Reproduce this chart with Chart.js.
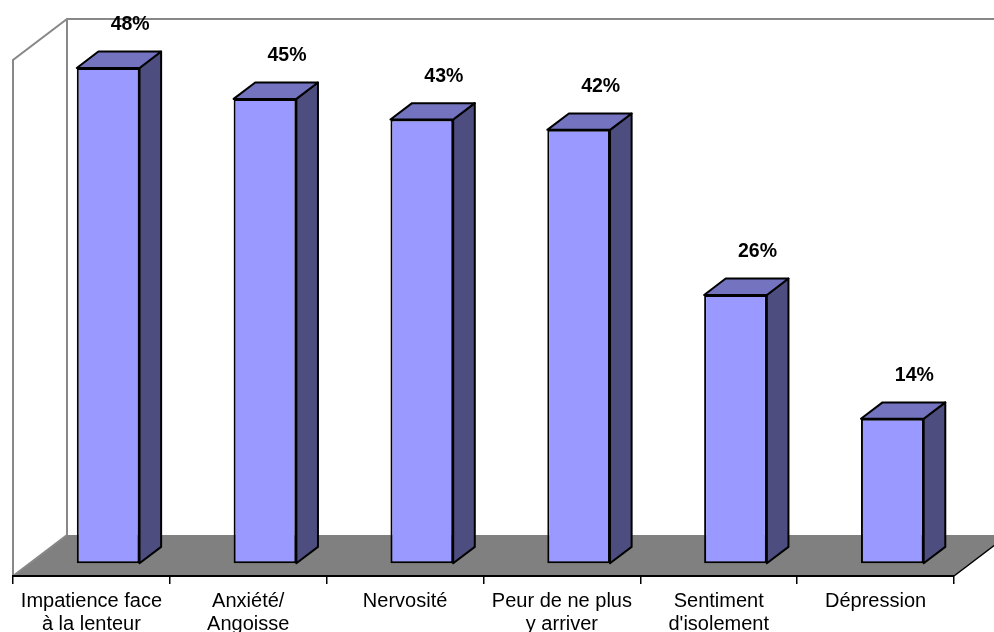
<!DOCTYPE html>
<html>
<head>
<meta charset="utf-8">
<script src="https://cdn.jsdelivr.net/npm/chart.js@4/dist/chart.umd.min.js"></script>
<style>
  html, body { margin: 0; padding: 0; background: #ffffff; }
  #c { display: block; }
</style>
</head>
<body>
<canvas id="c" width="994" height="632"></canvas>
<script>
// Categories (wrapped onto two lines where they are long) and their shares in %
const categories = [
  ["Impatience face", "à la lenteur"],
  ["Anxiété/", "Angoisse"],
  "Nervosité",
  ["Peur de ne plus", "y arriver"],
  ["Sentiment", "d'isolement"],
  "Dépression"
];
const values = [48, 45, 43, 42, 26, 14];
const valueMin = 0;
const valueMax = 50;

// Oblique projection of the depth axis: the whole floor depth, and the slice of it the bars occupy
const DEPTH = { x: 54, y: -41 };
const BAR_FRONT = 0.31;
const BAR_BACK = 0.71;

const FONT = "'Liberation Sans', Arial, sans-serif";
const COLORS = {
  front: '#9999FF',
  top: '#7373BF',
  side: '#4D4D80',
  floor: '#808080',
  wall: '#888888'
};

// Walls and floor of the 3D box, drawn behind everything else
const boxPlugin = {
  id: 'box3d',
  beforeDraw(chart) {
    const { ctx, chartArea: a, width } = chart;
    ctx.save();
    // floor
    ctx.beginPath();
    ctx.moveTo(a.left, a.bottom);
    ctx.lineTo(a.right, a.bottom);
    ctx.lineTo(a.right + DEPTH.x, a.bottom + DEPTH.y);
    ctx.lineTo(a.left + DEPTH.x, a.bottom + DEPTH.y);
    ctx.closePath();
    ctx.fillStyle = COLORS.floor;
    ctx.fill();
    // right edge of the floor
    ctx.beginPath();
    ctx.moveTo(a.right, a.bottom);
    ctx.lineTo(a.right + DEPTH.x, a.bottom + DEPTH.y);
    ctx.strokeStyle = '#000';
    ctx.lineWidth = 1.5;
    ctx.stroke();
    // wall outlines
    ctx.beginPath();
    ctx.moveTo(a.left, a.bottom);
    ctx.lineTo(a.left, a.top);
    ctx.lineTo(a.left + DEPTH.x, a.top + DEPTH.y);
    ctx.lineTo(width, a.top + DEPTH.y);
    ctx.moveTo(a.left + DEPTH.x, a.top + DEPTH.y);
    ctx.lineTo(a.left + DEPTH.x, a.bottom + DEPTH.y);
    ctx.moveTo(a.left, a.bottom);
    ctx.lineTo(a.left + DEPTH.x, a.bottom + DEPTH.y);
    ctx.strokeStyle = COLORS.wall;
    ctx.lineWidth = 2;
    ctx.stroke();
    ctx.restore();
  },
  // bars are pushed back into the depth of the floor
  beforeDatasetsDraw(chart) {
    chart.ctx.save();
    chart.ctx.translate(BAR_FRONT * DEPTH.x, BAR_FRONT * DEPTH.y);
  },
  afterDatasetsDraw(chart) {
    const ctx = chart.ctx;
    ctx.restore();
    const ox = BAR_FRONT * DEPTH.x, oy = BAR_FRONT * DEPTH.y;
    const dx = (BAR_BACK - BAR_FRONT) * DEPTH.x, dy = (BAR_BACK - BAR_FRONT) * DEPTH.y;
    const meta = chart.getDatasetMeta(0);
    const data = chart.data.datasets[0].data;
    ctx.save();
    ctx.lineJoin = 'round';
    ctx.lineWidth = 2;
    ctx.strokeStyle = '#000';
    meta.data.forEach((bar, i) => {
      const p = bar.getProps(['x', 'y', 'base', 'width'], true);
      const l = p.x - p.width / 2 + ox;
      const r = p.x + p.width / 2 + ox;
      const t = p.y + oy;
      const b = p.base + oy;
      // side face
      ctx.beginPath();
      ctx.moveTo(r, t);
      ctx.lineTo(r + dx, t + dy);
      ctx.lineTo(r + dx, b + dy);
      ctx.lineTo(r, b);
      ctx.closePath();
      ctx.fillStyle = COLORS.side;
      ctx.fill();
      ctx.stroke();
      // top face
      ctx.beginPath();
      ctx.moveTo(l, t);
      ctx.lineTo(l + dx, t + dy);
      ctx.lineTo(r + dx, t + dy);
      ctx.lineTo(r, t);
      ctx.closePath();
      ctx.fillStyle = COLORS.top;
      ctx.fill();
      ctx.stroke();
      // value label
      ctx.fillStyle = '#000';
      ctx.font = 'bold 19.5px ' + FONT;
      ctx.textAlign = 'center';
      ctx.textBaseline = 'middle';
      ctx.fillText(data[i] + '%', p.x + ox + 22, t - 43);
    });
    ctx.restore();
  }
};

new Chart(document.getElementById('c'), {
  type: 'bar',
  data: {
    labels: categories,
    datasets: [{
      data: values,
      backgroundColor: COLORS.front,
      borderColor: '#000',
      borderWidth: 2,
      borderSkipped: false,
      barPercentage: 0.4,
      categoryPercentage: 1,
      clip: false
    }]
  },
  options: {
    responsive: false,
    devicePixelRatio: 1,
    animation: false,
    layout: { padding: { top: 60, left: 13, right: 40, bottom: 0 } },
    plugins: {
      legend: { display: false },
      tooltip: { enabled: false }
    },
    scales: {
      x: {
        afterFit(scale) { scale.height = 56; },
        grid: {
          display: true,
          drawOnChartArea: false,
          drawTicks: true,
          tickLength: 8,
          color: '#000',
          lineWidth: 1.5,
          offset: true
        },
        border: { display: true, color: '#000', width: 2, z: 1 },
        ticks: {
          color: '#000',
          font: { family: FONT, size: 20, lineHeight: 1.15 },
          padding: 6,
          maxRotation: 0,
          autoSkip: false
        }
      },
      y: {
        display: false,
        min: valueMin,
        max: valueMax
      }
    }
  },
  plugins: [boxPlugin]
});
</script>
</body>
</html>
